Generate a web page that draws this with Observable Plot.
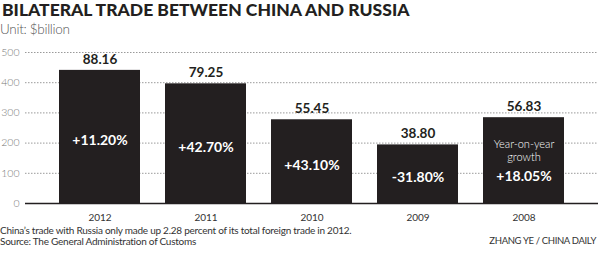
<!DOCTYPE html>
<html><head><meta charset="utf-8">
<script src="https://cdn.jsdelivr.net/npm/d3@7"></script>
<script src="https://cdn.jsdelivr.net/npm/@observablehq/plot@0.6"></script>
<style>
html,body{margin:0;padding:0;background:#fff}
body{width:600px;height:256px;overflow:hidden;position:relative;font-family:Lato,sans-serif}
.t{position:absolute;white-space:nowrap}
#title{left:2px;top:0.5px;font-size:17.5px;line-height:17.5px;font-weight:900;color:#231f20;letter-spacing:0}
#sub{left:0;top:23px;font-size:13.5px;line-height:13.5px;font-weight:300;color:#555;letter-spacing:-0.3px}
#cap1{left:0;top:224.6px;font-size:10px;line-height:10px;color:#333;letter-spacing:-0.25px}
#cap2{left:0;top:236.1px;font-size:10px;line-height:10px;color:#333;letter-spacing:-0.25px}
#credit{right:4px;top:235.5px;font-size:9.5px;line-height:10px;color:#333;letter-spacing:-0.35px}
#chart{position:absolute;left:0;top:40px}
</style></head><body>
<div class="t" id="title">BILATERAL TRADE BETWEEN CHINA AND RUSSIA</div>
<div class="t" id="sub">Unit: $billion</div>
<div id="chart"></div>
<div class="t" id="cap1">China’s trade with Russia only made up 2.28 percent of its total foreign trade in 2012.</div>
<div class="t" id="cap2">Source: The General Administration of Customs</div>
<div class="t" id="credit">ZHANG YE / CHINA DAILY</div>
<script>
const years = ["2012", "2011", "2010", "2009", "2008"];
const values = [88.16, 79.25, 55.45, 38.80, 56.83];
const growth = ["+11.20%", "+42.70%", "+43.10%", "-31.80%", "+18.05%"];
const yTicks = [0, 20, 40, 60, 80, 100];
const yTickLabels = ["0", "100", "200", "300", "400", "500"];
const noteYear = "2008";
const noteText = "Year-on-year\ngrowth";

const data = years.map((year, i) => ({year, value: values[i], growth: growth[i]}));
const noteData = data.filter(d => d.year === noteYear);
const restData = data.filter(d => d.year !== noteYear);

const chart = Plot.plot({
  width: 600,
  height: 185,
  marginTop: 12,
  marginBottom: 22,
  marginLeft: 25,
  marginRight: 2,
  style: {fontFamily: "Lato, sans-serif", background: "#fff"},
  x: {domain: years, paddingInner: 0.24, paddingOuter: 0.305, axis: null, label: null},
  y: {domain: [0, 100], axis: null, label: null},
  marks: [
    Plot.gridY(yTicks, {stroke: "#9a9a9a", strokeOpacity: 1, strokeDasharray: "1.5,1.5"}),
    Plot.axisY(yTicks, {tickSize: 0, tickPadding: 6, fontSize: 10.5, fill: "#777", fontWeight: 300,
      label: null, tickFormat: d => yTickLabels[yTicks.indexOf(d)]}),
    Plot.barY(data, {x: "year", y: "value", fill: "#231f20"}),
    Plot.ruleY([0], {stroke: "#231f20", strokeWidth: 1.5}),
    Plot.axisX({tickSize: 0, tickPadding: 10.5, fontSize: 10, fill: "#333", label: null}),
    Plot.text(data, {x: "year", y: "value", text: d => d.value.toFixed(2), dy: -11,
      fontSize: 13.5, fontWeight: 700, fill: "#231f20"}),
    Plot.text(restData, {x: "year", y: d => d.value / 2, text: "growth", dy: 3.5,
      fontSize: 14, fontWeight: 700, fill: "#fff"}),
    Plot.text(noteData, {x: "year", y: d => d.value / 2, text: "growth", dy: 16,
      fontSize: 14, fontWeight: 700, fill: "#fff"}),
    Plot.text(noteData, {x: "year", y: d => d.value / 2, text: () => noteText, dy: -10.5,
      fontSize: 11, fontWeight: 300, lineHeight: 1.18, fill: "#fff"})
  ]
});
document.getElementById("chart").appendChild(chart);
</script>
</body></html>
